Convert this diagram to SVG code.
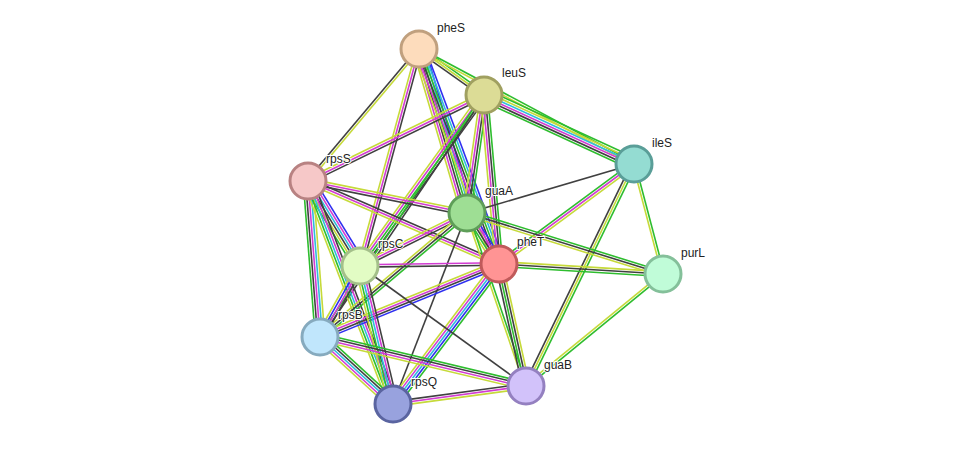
<svg xmlns="http://www.w3.org/2000/svg" width="975" height="449" viewBox="0 0 975 449">
<style>
#edges line{stroke-width:1.6;fill:none}
.g{stroke:#2ebd2e}.y{stroke:#c6da3a}.k{stroke:#404040}.m{stroke:#d23cd2}.b{stroke:#2f2ff0}.c{stroke:#2fbcdc}
.n circle{stroke-width:3}
text{font-family:"Liberation Sans",Arial,sans-serif;font-size:12px;fill:#222;paint-order:stroke;stroke:#fff;stroke-width:2px}
</style>
<rect width="975" height="449" fill="#fff"/>
<g id="edges">
<g transform="translate(419,49) rotate(35.3)"><line class="g" x2="79.6" y1="-2.4" y2="-2.4"/><line class="y" x2="79.6" y1="0" y2="0"/><line class="k" x2="79.6" y1="2.4" y2="2.4"/></g>
<g transform="translate(419,49) rotate(130.1)"><line class="y" x2="172.5" y1="-1.2" y2="-1.2"/><line class="k" x2="172.5" y1="1.2" y2="1.2"/></g>
<g transform="translate(419,49) rotate(73.7)"><line class="b" x2="170.9" y1="-6" y2="-6"/><line class="c" x2="170.9" y1="-3.6" y2="-3.6"/><line class="g" x2="170.9" y1="-1.2" y2="-1.2"/><line class="k" x2="170.9" y1="1.2" y2="1.2"/><line class="m" x2="170.9" y1="3.6" y2="3.6"/><line class="y" x2="170.9" y1="6" y2="6"/></g>
<g transform="translate(419,49) rotate(69.6)"><line class="b" x2="229.4" y1="-6" y2="-6"/><line class="c" x2="229.4" y1="-3.6" y2="-3.6"/><line class="g" x2="229.4" y1="-1.2" y2="-1.2"/><line class="k" x2="229.4" y1="1.2" y2="1.2"/><line class="m" x2="229.4" y1="3.6" y2="3.6"/><line class="y" x2="229.4" y1="6" y2="6"/></g>
<g transform="translate(419,49) rotate(105.2)"><line class="k" x2="224.9" y1="-2.4" y2="-2.4"/><line class="m" x2="224.9" y1="0" y2="0"/><line class="y" x2="224.9" y1="2.4" y2="2.4"/></g>
<g transform="translate(419,49) rotate(28.1)"><line class="g" x2="243.8" y1="-1.2" y2="-1.2"/><line class="y" x2="243.8" y1="1.2" y2="1.2"/></g>
<g transform="translate(484,95) rotate(24.7)"><line class="g" x2="165.1" y1="-6" y2="-6"/><line class="y" x2="165.1" y1="-3.6" y2="-3.6"/><line class="c" x2="165.1" y1="-1.2" y2="-1.2"/><line class="m" x2="165.1" y1="1.2" y2="1.2"/><line class="k" x2="165.1" y1="3.6" y2="3.6"/><line class="g" x2="165.1" y1="6" y2="6"/></g>
<g transform="translate(484,95) rotate(153.96)"><line class="k" x2="195.9" y1="-2.4" y2="-2.4"/><line class="m" x2="195.9" y1="0" y2="0"/><line class="y" x2="195.9" y1="2.4" y2="2.4"/></g>
<g transform="translate(484,95) rotate(98.2)"><line class="g" x2="119.2" y1="-3.6" y2="-3.6"/><line class="k" x2="119.2" y1="-1.2" y2="-1.2"/><line class="m" x2="119.2" y1="1.2" y2="1.2"/><line class="y" x2="119.2" y1="3.6" y2="3.6"/></g>
<g transform="translate(484,95) rotate(84.9)"><line class="g" x2="169.7" y1="-3.6" y2="-3.6"/><line class="k" x2="169.7" y1="-1.2" y2="-1.2"/><line class="m" x2="169.7" y1="1.2" y2="1.2"/><line class="y" x2="169.7" y1="3.6" y2="3.6"/></g>
<g transform="translate(484,95) rotate(125.9)"><line class="k" x2="211.2" y1="-3.6" y2="-3.6"/><line class="g" x2="211.2" y1="-1.2" y2="-1.2"/><line class="m" x2="211.2" y1="1.2" y2="1.2"/><line class="y" x2="211.2" y1="3.6" y2="3.6"/></g>
<g transform="translate(484,95) rotate(124.1)"><line class="k" x2="292.3" y1="-1.2" y2="-1.2"/><line class="g" x2="292.3" y1="1.2" y2="1.2"/></g>
<g transform="translate(634,164) rotate(163.6)"><line class="k" x2="174" y1="0" y2="0"/></g>
<g transform="translate(634,164) rotate(143.5)"><line class="y" x2="168" y1="-2.4" y2="-2.4"/><line class="m" x2="168" y1="0" y2="0"/><line class="g" x2="168" y1="2.4" y2="2.4"/></g>
<g transform="translate(634,164) rotate(75.2)"><line class="g" x2="113.8" y1="-1.2" y2="-1.2"/><line class="y" x2="113.8" y1="1.2" y2="1.2"/></g>
<g transform="translate(634,164) rotate(115.9)"><line class="g" x2="246.9" y1="-2.4" y2="-2.4"/><line class="y" x2="246.9" y1="0" y2="0"/><line class="k" x2="246.9" y1="2.4" y2="2.4"/></g>
<g transform="translate(308,181) rotate(11.4)"><line class="y" x2="162.2" y1="-2.4" y2="-2.4"/><line class="m" x2="162.2" y1="0" y2="0"/><line class="k" x2="162.2" y1="2.4" y2="2.4"/></g>
<g transform="translate(308,181) rotate(23.5)"><line class="k" x2="208.3" y1="-2.4" y2="-2.4"/><line class="m" x2="208.3" y1="0" y2="0"/><line class="y" x2="208.3" y1="2.4" y2="2.4"/></g>
<g transform="translate(308,181) rotate(58.5)"><line class="b" x2="99.6" y1="-6" y2="-6"/><line class="m" x2="99.6" y1="-3.6" y2="-3.6"/><line class="c" x2="99.6" y1="-1.2" y2="-1.2"/><line class="k" x2="99.6" y1="1.2" y2="1.2"/><line class="y" x2="99.6" y1="3.6" y2="3.6"/><line class="g" x2="99.6" y1="6" y2="6"/></g>
<g transform="translate(308,181) rotate(85.6)"><line class="y" x2="156.5" y1="-4.8" y2="-4.8"/><line class="c" x2="156.5" y1="-2.4" y2="-2.4"/><line class="m" x2="156.5" y1="0" y2="0"/><line class="k" x2="156.5" y1="2.4" y2="2.4"/><line class="g" x2="156.5" y1="4.8" y2="4.8"/></g>
<g transform="translate(308,181) rotate(69.1)"><line class="k" x2="238.7" y1="-4.8" y2="-4.8"/><line class="m" x2="238.7" y1="-2.4" y2="-2.4"/><line class="c" x2="238.7" y1="0" y2="0"/><line class="g" x2="238.7" y1="2.4" y2="2.4"/><line class="y" x2="238.7" y1="4.8" y2="4.8"/></g>
<g transform="translate(467,213) rotate(17.3)"><line class="g" x2="205.3" y1="-2.4" y2="-2.4"/><line class="k" x2="205.3" y1="0" y2="0"/><line class="y" x2="205.3" y1="2.4" y2="2.4"/></g>
<g transform="translate(499,264) rotate(3.5)"><line class="y" x2="164.3" y1="-2.4" y2="-2.4"/><line class="k" x2="164.3" y1="0" y2="0"/><line class="g" x2="164.3" y1="2.4" y2="2.4"/></g>
<g transform="translate(467,213) rotate(57.9)"><line class="b" x2="60.2" y1="-4.8" y2="-4.8"/><line class="m" x2="60.2" y1="-2.4" y2="-2.4"/><line class="k" x2="60.2" y1="0" y2="0"/><line class="g" x2="60.2" y1="2.4" y2="2.4"/><line class="y" x2="60.2" y1="4.8" y2="4.8"/></g>
<g transform="translate(467,213) rotate(153.6)"><line class="k" x2="119.4" y1="-2.4" y2="-2.4"/><line class="m" x2="119.4" y1="0" y2="0"/><line class="y" x2="119.4" y1="2.4" y2="2.4"/></g>
<g transform="translate(467,213) rotate(139.8)"><line class="g" x2="192.3" y1="-2.4" y2="-2.4"/><line class="k" x2="192.3" y1="0" y2="0"/><line class="y" x2="192.3" y1="2.4" y2="2.4"/></g>
<g transform="translate(467,213) rotate(111.2)"><line class="k" x2="204.8" y1="0" y2="0"/></g>
<g transform="translate(467,213) rotate(71.2)"><line class="g" x2="182.8" y1="-1.2" y2="-1.2"/><line class="y" x2="182.8" y1="1.2" y2="1.2"/></g>
<g transform="translate(499,264) rotate(179.2)"><line class="k" x2="139" y1="-1.2" y2="-1.2"/><line class="m" x2="139" y1="1.2" y2="1.2"/></g>
<g transform="translate(499,264) rotate(157.8)"><line class="b" x2="193.3" y1="-3.6" y2="-3.6"/><line class="k" x2="193.3" y1="-1.2" y2="-1.2"/><line class="m" x2="193.3" y1="1.2" y2="1.2"/><line class="y" x2="193.3" y1="3.6" y2="3.6"/></g>
<g transform="translate(499,264) rotate(127.1)"><line class="g" x2="175.6" y1="-4.8" y2="-4.8"/><line class="b" x2="175.6" y1="-2.4" y2="-2.4"/><line class="c" x2="175.6" y1="0" y2="0"/><line class="m" x2="175.6" y1="2.4" y2="2.4"/><line class="y" x2="175.6" y1="4.8" y2="4.8"/></g>
<g transform="translate(499,264) rotate(77.5)"><line class="y" x2="125" y1="-3.6" y2="-3.6"/><line class="k" x2="125" y1="-1.2" y2="-1.2"/><line class="g" x2="125" y1="1.2" y2="1.2"/><line class="k" x2="125" y1="3.6" y2="3.6"/></g>
<g transform="translate(360,266) rotate(119.4)"><line class="k" x2="81.5" y1="-3.6" y2="-3.6"/><line class="m" x2="81.5" y1="-1.2" y2="-1.2"/><line class="b" x2="81.5" y1="1.2" y2="1.2"/><line class="y" x2="81.5" y1="3.6" y2="3.6"/></g>
<g transform="translate(360,266) rotate(76.6)"><line class="k" x2="141.9" y1="-4.8" y2="-4.8"/><line class="m" x2="141.9" y1="-2.4" y2="-2.4"/><line class="c" x2="141.9" y1="0" y2="0"/><line class="g" x2="141.9" y1="2.4" y2="2.4"/><line class="y" x2="141.9" y1="4.8" y2="4.8"/></g>
<g transform="translate(360,266) rotate(35.9)"><line class="k" x2="204.8" y1="0" y2="0"/></g>
<g transform="translate(320,337) rotate(42.5)"><line class="g" x2="99.1" y1="-4.8" y2="-4.8"/><line class="k" x2="99.1" y1="-2.4" y2="-2.4"/><line class="c" x2="99.1" y1="0" y2="0"/><line class="m" x2="99.1" y1="2.4" y2="2.4"/><line class="y" x2="99.1" y1="4.8" y2="4.8"/></g>
<g transform="translate(320,337) rotate(13.4)"><line class="g" x2="211.7" y1="-3.6" y2="-3.6"/><line class="k" x2="211.7" y1="-1.2" y2="-1.2"/><line class="m" x2="211.7" y1="1.2" y2="1.2"/><line class="y" x2="211.7" y1="3.6" y2="3.6"/></g>
<g transform="translate(393,404) rotate(-7.7)"><line class="k" x2="134.2" y1="-2.4" y2="-2.4"/><line class="m" x2="134.2" y1="0" y2="0"/><line class="y" x2="134.2" y1="2.4" y2="2.4"/></g>
<g transform="translate(663,274) rotate(140.7)"><line class="g" x2="177" y1="-1.2" y2="-1.2"/><line class="y" x2="177" y1="1.2" y2="1.2"/></g>
</g>
<g id="pheS" class="n"><circle cx="419" cy="49" r="18" fill="#fddcbc" stroke="#c0a07e"/><text x="437" y="32">pheS</text></g>
<g id="leuS" class="n"><circle cx="484" cy="95" r="18" fill="#dcdc96" stroke="#a0a060"/><text x="502" y="77">leuS</text></g>
<g id="ileS" class="n"><circle cx="634" cy="164" r="18" fill="#94dcd2" stroke="#5a9e98"/><text x="652" y="147">ileS</text></g>
<g id="rpsS" class="n"><circle cx="308" cy="181" r="18" fill="#f6c8c8" stroke="#b88282"/><text x="326" y="163">rpsS</text></g>
<g id="guaA" class="n"><circle cx="467" cy="213" r="18" fill="#9ede94" stroke="#5e9e58"/><text x="485" y="195">guaA</text></g>
<g id="pheT" class="n"><circle cx="499" cy="264" r="18" fill="#ff9494" stroke="#c05a5a"/><text x="517" y="246">pheT</text></g>
<g id="purL" class="n"><circle cx="663" cy="274" r="18" fill="#c0fcd8" stroke="#84c09a"/><text x="681" y="257">purL</text></g>
<g id="rpsC" class="n"><circle cx="360" cy="266" r="18" fill="#e2fcc4" stroke="#a4c08a"/><text x="378" y="248">rpsC</text></g>
<g id="rpsB" class="n"><circle cx="320" cy="337" r="18" fill="#c0e6fc" stroke="#86aabe"/><text x="338" y="319">rpsB</text></g>
<g id="rpsQ" class="n"><circle cx="393" cy="404" r="18" fill="#98a2de" stroke="#5a64a0"/><text x="411" y="386">rpsQ</text></g>
<g id="guaB" class="n"><circle cx="526" cy="386" r="18" fill="#d2c2fa" stroke="#9480c0"/><text x="544" y="369">guaB</text></g>
</svg>
